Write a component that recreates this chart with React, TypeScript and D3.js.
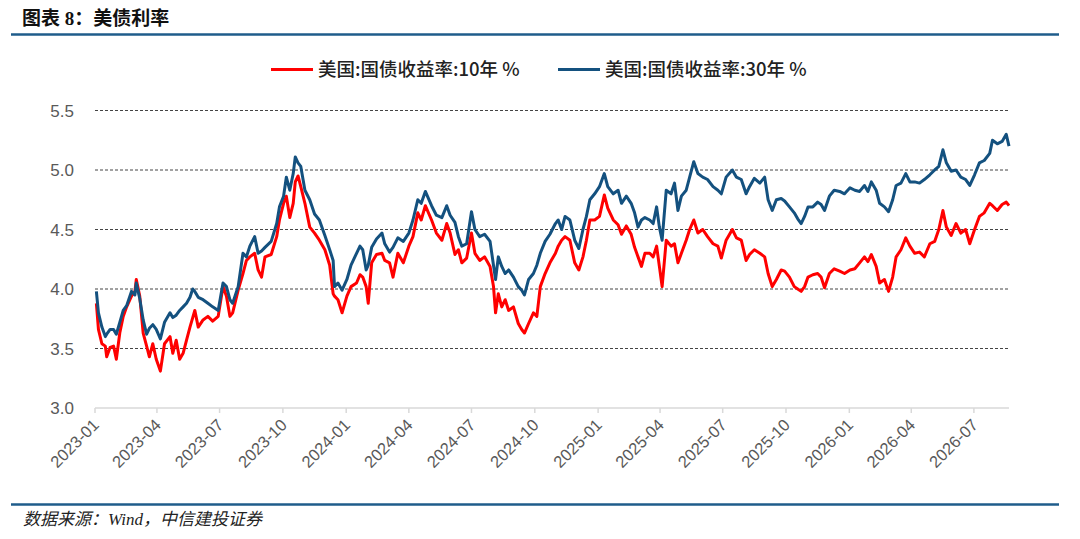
import { scaleLinear, scaleTime, line, timeMonth, timeFormat, curveLinear } from 'd3';

const WIDTH = 1080;
const HEIGHT = 539;
const RED = '#ff0000';
const BLUE = '#14517f';
const RULE = '#1f5c8b';

// dates, one entry per sample
const dates = [
  '2023-01-03', '2023-01-06', '2023-01-11', '2023-01-16', '2023-01-18', '2023-01-23', '2023-01-28', '2023-02-01',
  '2023-02-06', '2023-02-11', '2023-02-16', '2023-02-23', '2023-02-28', '2023-03-02', '2023-03-07', '2023-03-12',
  '2023-03-17', '2023-03-21', '2023-03-26', '2023-03-31', '2023-04-06', '2023-04-12', '2023-04-20', '2023-04-24',
  '2023-04-29', '2023-05-04', '2023-05-09', '2023-05-14', '2023-05-19', '2023-05-23', '2023-05-26', '2023-05-31',
  '2023-06-07', '2023-06-14', '2023-06-21', '2023-06-29', '2023-07-06', '2023-07-11', '2023-07-16', '2023-07-20',
  '2023-07-28', '2023-08-04', '2023-08-09', '2023-08-14', '2023-08-21', '2023-08-26', '2023-08-31', '2023-09-05',
  '2023-09-14', '2023-09-22', '2023-09-26', '2023-10-02', '2023-10-06', '2023-10-11', '2023-10-16', '2023-10-19',
  '2023-10-23', '2023-10-27', '2023-11-02', '2023-11-09', '2023-11-16', '2023-11-23', '2023-12-01', '2023-12-08',
  '2023-12-13', '2023-12-15', '2023-12-20', '2023-12-26', '2024-01-02', '2024-01-08', '2024-01-16', '2024-01-21',
  '2024-01-25', '2024-01-30', '2024-02-02', '2024-02-07', '2024-02-14', '2024-02-22', '2024-02-26', '2024-03-04',
  '2024-03-09', '2024-03-16', '2024-03-24', '2024-04-01', '2024-04-07', '2024-04-14', '2024-04-19', '2024-04-25',
  '2024-05-04', '2024-05-11', '2024-05-19', '2024-05-26', '2024-05-31', '2024-06-07', '2024-06-12', '2024-06-17',
  '2024-06-24', '2024-07-01', '2024-07-06', '2024-07-13', '2024-07-20', '2024-07-28', '2024-08-02', '2024-08-05',
  '2024-08-09', '2024-08-14', '2024-08-19', '2024-08-24', '2024-08-31', '2024-09-07', '2024-09-12', '2024-09-16',
  '2024-09-22', '2024-09-29', '2024-10-04', '2024-10-09', '2024-10-16', '2024-10-23', '2024-10-31', '2024-11-04',
  '2024-11-09', '2024-11-14', '2024-11-21', '2024-11-28', '2024-12-04', '2024-12-10', '2024-12-15', '2024-12-20',
  '2024-12-27', '2025-01-03', '2025-01-10', '2025-01-15', '2025-01-23', '2025-01-30', '2025-02-04', '2025-02-11',
  '2025-02-18', '2025-02-23', '2025-02-28', '2025-03-05', '2025-03-10', '2025-03-17', '2025-03-22', '2025-03-27',
  '2025-03-31', '2025-04-04', '2025-04-10', '2025-04-17', '2025-04-22', '2025-04-27', '2025-05-02', '2025-05-09',
  '2025-05-14', '2025-05-20', '2025-05-26', '2025-06-02', '2025-06-09', '2025-06-17', '2025-06-24', '2025-06-29',
  '2025-07-06', '2025-07-15', '2025-07-21', '2025-07-28', '2025-08-04', '2025-08-09', '2025-08-16', '2025-08-24',
  '2025-08-31', '2025-09-05', '2025-09-11', '2025-09-17', '2025-09-24', '2025-09-29', '2025-10-06', '2025-10-13',
  '2025-10-18', '2025-10-23', '2025-10-28', '2025-11-02', '2025-11-09', '2025-11-16', '2025-11-21', '2025-11-26',
  '2025-12-03', '2025-12-10', '2025-12-18', '2025-12-25', '2026-01-02', '2026-01-09', '2026-01-16', '2026-01-23',
  '2026-01-28', '2026-02-02', '2026-02-09', '2026-02-14', '2026-02-21', '2026-02-27', '2026-03-05', '2026-03-10',
  '2026-03-17', '2026-03-24', '2026-03-30', '2026-04-06', '2026-04-13', '2026-04-20', '2026-04-28', '2026-05-05',
  '2026-05-11', '2026-05-17', '2026-05-22', '2026-05-29', '2026-06-05', '2026-06-12', '2026-06-19', '2026-06-25',
  '2026-07-02', '2026-07-09', '2026-07-16', '2026-07-24', '2026-07-28', '2026-08-04', '2026-08-11', '2026-08-17',
  '2026-08-21',
];

// 美国:国债收益率:10年
const us10y = [
  3.88, 3.66, 3.54, 3.52, 3.43, 3.51, 3.52, 3.41,
  3.63, 3.77, 3.85, 3.94, 3.98, 4.08, 3.94, 3.63,
  3.52, 3.43, 3.54, 3.41, 3.31, 3.54, 3.60, 3.46,
  3.57, 3.41, 3.46, 3.57, 3.68, 3.76, 3.82, 3.68,
  3.74, 3.77, 3.73, 3.77, 4.02, 3.94, 3.77, 3.80,
  3.99, 4.13, 4.24, 4.27, 4.30, 4.16, 4.10, 4.27,
  4.29, 4.44, 4.58, 4.72, 4.78, 4.60, 4.72, 4.90,
  4.95, 4.86, 4.72, 4.52, 4.47, 4.41, 4.33, 4.20,
  3.96, 3.94, 3.91, 3.80, 3.94, 4.02, 4.05, 4.12,
  4.10, 4.02, 3.88, 4.22, 4.29, 4.30, 4.24, 4.22,
  4.10, 4.30, 4.22, 4.36, 4.44, 4.64, 4.58, 4.70,
  4.58, 4.47, 4.41, 4.55, 4.47, 4.29, 4.33, 4.22,
  4.26, 4.47, 4.30, 4.24, 4.27, 4.19, 4.02, 3.80,
  3.96, 3.85, 3.91, 3.82, 3.85, 3.71, 3.66, 3.63,
  3.71, 3.80, 3.77, 4.02, 4.13, 4.22, 4.30, 4.36,
  4.41, 4.44, 4.41, 4.22, 4.16, 4.27, 4.41, 4.58,
  4.58, 4.61, 4.79, 4.68, 4.58, 4.54, 4.46, 4.53,
  4.46, 4.35, 4.27, 4.19, 4.30, 4.30, 4.27, 4.36,
  4.19, 4.02, 4.41, 4.36, 4.38, 4.22, 4.30, 4.41,
  4.50, 4.58, 4.47, 4.50, 4.44, 4.38, 4.36, 4.26,
  4.41, 4.50, 4.43, 4.41, 4.24, 4.29, 4.33, 4.30,
  4.27, 4.13, 4.02, 4.08, 4.16, 4.15, 4.10, 4.02,
  4.00, 3.98, 4.02, 4.10, 4.12, 4.13, 4.10, 4.01,
  4.13, 4.17, 4.15, 4.13, 4.16, 4.17, 4.22, 4.27,
  4.23, 4.29, 4.19, 4.05, 4.08, 3.98, 4.10, 4.27,
  4.33, 4.43, 4.36, 4.30, 4.31, 4.27, 4.38, 4.40,
  4.50, 4.66, 4.52, 4.45, 4.55, 4.47, 4.50, 4.38,
  4.50, 4.61, 4.64, 4.72, 4.70, 4.66, 4.71, 4.73,
  4.70,
];

// 美国:国债收益率:30年
const us30y = [
  3.98, 3.80, 3.68, 3.60, 3.62, 3.66, 3.66, 3.62,
  3.72, 3.82, 3.86, 3.98, 3.95, 4.05, 3.92, 3.74,
  3.62, 3.67, 3.70, 3.66, 3.58, 3.72, 3.80, 3.76,
  3.78, 3.82, 3.85, 3.88, 3.93, 4.00, 3.98, 3.93,
  3.91, 3.88, 3.85, 3.82, 4.05, 4.02, 3.91, 3.88,
  4.02, 4.30, 4.27, 4.36, 4.44, 4.30, 4.32, 4.35,
  4.40, 4.55, 4.69, 4.78, 4.94, 4.83, 4.97, 5.11,
  5.06, 5.03, 4.83, 4.75, 4.63, 4.58, 4.45, 4.33,
  4.24, 4.02, 4.05, 3.99, 4.08, 4.20, 4.30, 4.36,
  4.33, 4.16, 4.20, 4.35, 4.42, 4.47, 4.38, 4.31,
  4.35, 4.43, 4.40, 4.47, 4.58, 4.75, 4.72, 4.82,
  4.70, 4.62, 4.60, 4.70, 4.62, 4.56, 4.44, 4.36,
  4.38, 4.65, 4.50, 4.44, 4.46, 4.40, 4.20, 4.08,
  4.27, 4.19, 4.13, 4.16, 4.10, 4.02, 3.99, 3.95,
  4.08, 4.13, 4.20, 4.30, 4.40, 4.46, 4.55, 4.58,
  4.50, 4.61, 4.58, 4.41, 4.34, 4.50, 4.61, 4.75,
  4.80, 4.86, 4.97, 4.86, 4.80, 4.83, 4.72, 4.78,
  4.72, 4.64, 4.52, 4.58, 4.60, 4.58, 4.55, 4.69,
  4.52, 4.41, 4.83, 4.80, 4.89, 4.66, 4.78, 4.83,
  4.94, 5.07, 4.97, 4.94, 4.92, 4.86, 4.83, 4.80,
  4.94, 5.00, 4.94, 4.92, 4.80, 4.86, 4.93, 4.89,
  4.94, 4.75, 4.66, 4.75, 4.76, 4.74, 4.69, 4.64,
  4.59, 4.55, 4.61, 4.69, 4.69, 4.73, 4.71, 4.66,
  4.78, 4.83, 4.82, 4.80, 4.85, 4.83, 4.82, 4.87,
  4.82, 4.90, 4.83, 4.72, 4.69, 4.65, 4.75, 4.87,
  4.89, 4.97, 4.90, 4.90, 4.89, 4.92, 4.96, 5.00,
  5.03, 5.17, 5.06, 4.99, 5.00, 4.94, 4.92, 4.87,
  4.96, 5.06, 5.08, 5.14, 5.25, 5.22, 5.24, 5.30,
  5.20,
];

const yTicks = [3.0, 3.5, 4.0, 4.5, 5.0, 5.5];
const legendLabels = ['美国:国债收益率:10年 %', '美国:国债收益率:30年 %'];
const titleText = '图表 8：美债利率';
const sourceText = '数据来源：Wind，中信建投证券';

const PLOT = { left: 95, right: 1009, top: 110.5, bottom: 408 };

export default function App() {
  const x = scaleTime()
    .domain([new Date(2023, 0, 1), new Date(2026, 7, 21)])
    .range([PLOT.left, PLOT.right]);
  const y = scaleLinear().domain([3, 5.5]).range([PLOT.bottom, PLOT.top]);

  const parsed = dates.map(d => {
    const [yy, mm, dd] = d.split('-').map(Number);
    return new Date(yy, mm - 1, dd);
  });

  const lineGen = line<number>()
    .x((_, i) => x(parsed[i]))
    .y(d => y(d))
    .curve(curveLinear);

  const xTicks = timeMonth.every(3)!.range(new Date(2023, 0, 1), new Date(2026, 7, 2));
  const fmt = timeFormat('%Y-%m');

  const series = [
    { values: us10y, color: RED },
    { values: us30y, color: BLUE },
  ];

  return (
    <svg
      width={WIDTH}
      height={HEIGHT}
      style={{ position: 'absolute', left: 0, top: 0, background: '#fff' }}
    >
      <text
        x={22}
        y={25}
        fontSize={19}
        fontWeight="bold"
        fontFamily="'Liberation Serif', 'Noto Sans CJK SC', serif"
        fill="#111"
      >
        {titleText}
      </text>
      <line x1={11} x2={1059} y1={34.5} y2={34.5} stroke={RULE} strokeWidth={2.5} />

      {/* legend */}
      {legendLabels.map((label, i) => {
        const lx = [271, 558][i];
        return (
          <g key={label}>
            <line x1={lx} x2={lx + 42} y1={69.5} y2={69.5} stroke={series[i].color} strokeWidth={3} />
            <text
              x={lx + 47}
              y={69.5}
              dy="0.35em"
              fontSize={18.5}
              fontFamily="'Noto Sans CJK SC', 'Liberation Sans', sans-serif"
              fontWeight={500}
              fill="#222"
            >
              {label}
            </text>
          </g>
        );
      })}

      {/* grid */}
      {yTicks.filter(t => t > 3).map(t => (
        <line
          key={t}
          x1={PLOT.left}
          x2={PLOT.right}
          y1={y(t)}
          y2={y(t)}
          stroke="#444"
          strokeWidth={1}
          strokeDasharray="3 2"
        />
      ))}
      {yTicks.map(t => (
        <text
          key={t}
          x={74}
          y={y(t)}
          dy="0.36em"
          textAnchor="end"
          fontSize={17}
          fontFamily="'Liberation Sans', Arial, sans-serif"
          fill="#595959"
        >
          {t.toFixed(1)}
        </text>
      ))}

      {/* x axis */}
      <line x1={PLOT.left} x2={PLOT.right} y1={PLOT.bottom} y2={PLOT.bottom} stroke="#d9d9d9" strokeWidth={1.5} />
      {xTicks.map(t => (
        <g key={t.getTime()}>
          <line x1={x(t)} x2={x(t)} y1={PLOT.bottom} y2={PLOT.bottom + 5} stroke="#d9d9d9" strokeWidth={1.5} />
          <text
            transform={`translate(${x(t) + 5},${PLOT.bottom + 18}) rotate(-45)`}
            textAnchor="end"
            fontSize={16.5}
            fontFamily="'Liberation Sans', Arial, sans-serif"
            fill="#595959"
          >
            {fmt(t)}
          </text>
        </g>
      ))}

      {/* lines */}
      {series.map(s => (
        <path
          key={s.color}
          d={lineGen(s.values) ?? ''}
          fill="none"
          stroke={s.color}
          strokeWidth={3}
          strokeLinejoin="round"
        />
      ))}

      <line x1={11} x2={1059} y1={504.5} y2={504.5} stroke={RULE} strokeWidth={2.5} />
      <text
        x={23}
        y={525}
        fontSize={17}
        fontStyle="italic"
        fontFamily="'Liberation Serif', 'Noto Sans CJK SC', serif"
        fill="#222"
      >
        {sourceText}
      </text>
    </svg>
  );
}
